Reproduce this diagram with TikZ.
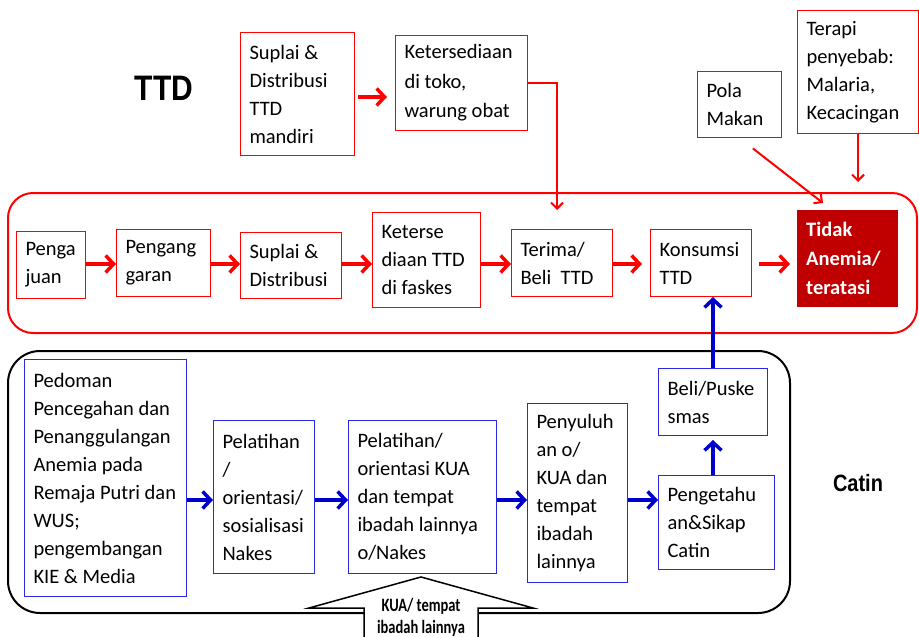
\documentclass[tikz,border=0pt]{standalone}
\usepackage{fontspec}
\setmainfont{Carlito}
\newfontfamily\arialfont{Liberation Sans}
\usetikzlibrary{arrows.meta}

\definecolor{darkred}{RGB}{192,0,0}
\definecolor{linkblue}{RGB}{0,0,204}
\definecolor{boxblue}{RGB}{40,40,230}

\begin{document}
\begin{tikzpicture}[x=1pt, y=-1pt,
    every node/.style={font=\fontsize{20.5}{28}\selectfont, inner xsep=9pt, align=flush left, anchor=north west},
    redbox/.style={draw=red, line width=1pt, fill=white},
    bluebox/.style={draw=boxblue, line width=1pt, fill=white},
    boxsize/.style 2 args={text width=#1, minimum height=#2},
    redarrow/.style={draw=red, line width=3.5pt, -{Straight Barb[length=8pt,width=17pt]}},
    thinred/.style={draw=red, line width=2pt, -{Straight Barb[length=6pt,width=12pt]}},
    bluearrow/.style={draw=linkblue, line width=3.5pt, -{Straight Barb[length=8pt,width=17pt]}},
    headline/.style={font=\arialfont\bfseries, anchor=center, inner sep=0pt}]

    \useasboundingbox (0,0) rectangle (919,637);

    % the two groups
    \draw[red, line width=2pt, rounded corners=25pt] (8,193) rectangle (917,333);
    \draw[black, line width=2pt, rounded corners=32pt] (8,351) rectangle (790,613);

    \node[headline, font=\arialfont\bfseries\fontsize{30}{36}\selectfont] (ttd) at (164,88) {\scalebox{1}[1.18]{TTD}};
    \node[headline, font=\arialfont\bfseries\fontsize{20}{24}\selectfont] (catin) at (858,483) {\scalebox{1}[1.18]{Catin}};

    % top row
    \node[redbox, boxsize={96pt}{123pt}] (suplaimandiri) at (240,32) {Suplai \&\\Distribusi\\TTD\\mandiri};
    \node[redbox, boxsize={114pt}{95pt}, font=\fontsize{20.5}{29.5}\selectfont] (ketoko) at (395,35) {Ketersediaan\\di toko,\\warung obat};
    \node[redbox, boxsize={66pt}{66pt}] (pola) at (697,71) {Pola\\Makan};
    \node[redbox, boxsize={103pt}{123pt}] (terapi) at (797,10) {Terapi\\penyebab:\\Malaria,\\Kecacingan};

    % TTD chain
    \node[redbox, boxsize={51pt}{67pt}] (pengajuan) at (16,231) {Penga\\juan};
    \node[redbox, boxsize={76pt}{67pt}] (penganggaran) at (116,229) {Pengang\\garan};
    \node[redbox, boxsize={83pt}{66pt}] (suplai) at (240,232) {Suplai \&\\Distribusi};
    \node[redbox, boxsize={90pt}{95pt}] (faskes) at (372,212) {Keterse\\diaan TTD\\di faskes};
    \node[redbox, boxsize={83pt}{67pt}] (terima) at (511,229) {Terima/\\Beli~ TTD};
    \node[redbox, boxsize={83pt}{67pt}] (konsumsi) at (650,229) {Konsumsi\\TTD};
    \node[fill=darkred, text=white, boxsize={83pt}{97pt}, font=\fontsize{20.5}{29}\selectfont\bfseries] (tidak) at (797,210) {Tidak\\Anemia/\\teratasi};

    % Catin chain
    \node[bluebox, boxsize={144pt}{237pt}] (pedoman) at (24,359) {Pedoman\\\mbox{Pencegahan dan}\\Penanggulangan\\Anemia pada\\\mbox{Remaja Putri dan}\\WUS;\\pengembangan\\KIE \& Media};
    \node[bluebox, boxsize={83pt}{153pt}] (latihnakes) at (213,420) {Pelatihan\\/\\orientasi/\\sosialisasi\\Nakes};
    \node[bluebox, boxsize={130pt}{153pt}] (latihkua) at (348,420) {Pelatihan/\\orientasi KUA\\dan tempat\\\mbox{ibadah lainnya}\\o/Nakes};
    \node[bluebox, boxsize={82pt}{179pt}] (penyuluhan) at (527,403) {Penyuluh\\an o/\\KUA dan\\tempat\\ibadah\\lainnya};
    \node[bluebox, boxsize={98pt}{94pt}] (pengetahuan) at (658,475) {Pengetahu\\an\&Sikap\\Catin};
    \node[bluebox, boxsize={91pt}{67pt}] (beli) at (658,368) {Beli/Puske\\smas};

    % block arrow from below
    \filldraw[fill=white, draw=black, line width=1.5pt, line join=miter]
        (364,637) -- (364,608) -- (309,608) -- (421,577) -- (533,608) -- (478,608) -- (478,637);
    \node[anchor=center, align=center, inner sep=0pt, font=\fontsize{14.5}{22}\selectfont\bfseries] (kua) at (421,617)
        {\scalebox{1}[1.3]{KUA/ tempat}\\\scalebox{1}[1.3]{ibadah lainnya}};

    \coordinate (redrow) at (0,264);
    \coordinate (bluerow) at (0,500);
    \coordinate (bluecol) at (713,0);
    \coordinate (terimain) at (557,210);
    \coordinate (tidakin) at (823,203);

    \draw[redarrow, shorten <=3pt, shorten >=8pt] (suplaimandiri.east |- 0,97) -- (ketoko.west |- 0,97);
    \draw[thinred] (ketoko.east) -| (terimain);
    \draw[thinred, shorten <=17pt] (pola.south) -- (tidakin);
    \draw[thinred] (terapi.south) -- (terapi.south |- 0,182);

    \foreach \a/\b in {pengajuan/penganggaran, penganggaran/suplai, suplai/faskes, faskes/terima}
        \draw[redarrow] (\a.east |- redrow) -- (\b.west |- redrow);
    \draw[redarrow, shorten >=8pt] (terima.east |- redrow) -- (konsumsi.west |- redrow);
    \draw[redarrow, shorten <=7pt, shorten >=7pt] (konsumsi.east |- redrow) -- (tidak.west |- redrow);

    \foreach \a/\b in {pedoman/latihnakes, latihnakes/latihkua, latihkua/penyuluhan, penyuluhan/pengetahuan}
        \draw[bluearrow] (\a.east |- bluerow) -- (\b.west |- bluerow);
    \draw[bluearrow, shorten >=4pt] (pengetahuan.north -| bluecol) -- (beli.south -| bluecol);
    \draw[bluearrow] (beli.north -| bluecol) -- (konsumsi.south -| bluecol);
\end{tikzpicture}
\end{document}
